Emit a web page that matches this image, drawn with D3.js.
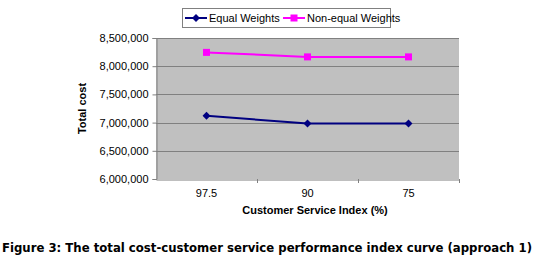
<!DOCTYPE html>
<html>
<head>
<meta charset="utf-8">
<script src="https://cdn.jsdelivr.net/npm/d3@7/dist/d3.min.js"></script>
<style>
  html, body { margin: 0; padding: 0; background: #fff; }
  svg { display: block; }
</style>
</head>
<body>
<svg id="chart" width="543" height="259"></svg>
<script>
const categories = ["97.5", "90", "75"];
const equalWeights = [7120000, 6985000, 6985000];
const nonEqualWeights = [8245000, 8165000, 8165000];
const yTicks = [6000000, 6500000, 7000000, 7500000, 8000000, 8500000];
const seriesNames = ["Equal Weights", "Non-equal Weights"];

const svg = d3.select("#chart");
const plot = { left: 156, right: 459, top: 38, bottom: 179 };

const x = d3.scaleBand().domain(categories).range([plot.left, plot.right]);
const y = d3.scaleLinear().domain([6000000, 8500000]).range([plot.bottom, plot.top]);

// plot background
svg.append("rect")
  .attr("x", plot.left).attr("y", plot.top)
  .attr("width", plot.right - plot.left).attr("height", plot.bottom - plot.top)
  .attr("fill", "#c0c0c0");

// gridlines
svg.append("g").selectAll("line").data(yTicks.slice(1)).join("line")
  .attr("x1", plot.left).attr("x2", plot.right)
  .attr("y1", d => Math.round(y(d)) + 0.5).attr("y2", d => Math.round(y(d)) + 0.5)
  .attr("stroke", "#808080").attr("stroke-width", 1);

// y axis
const yAxis = d3.axisLeft(y).tickValues(yTicks).tickSize(4).tickPadding(4)
  .tickFormat(d3.format(","));
const gy = svg.append("g").attr("transform", `translate(${plot.left + 0.5},0)`).call(yAxis);
gy.select(".domain").attr("stroke", "#808080");
gy.selectAll(".tick line").attr("stroke", "#808080");
gy.selectAll("text").attr("font-family", "Arial, 'Liberation Sans', sans-serif")
  .attr("font-size", 11).attr("fill", "#000");

// x axis
const xAxis = d3.axisBottom(x).tickSize(0).tickPadding(10);
const gx = svg.append("g").attr("transform", `translate(0,${plot.bottom + 0.5})`).call(xAxis);
gx.select(".domain").attr("stroke", "#808080");
gx.selectAll("text").attr("font-family", "Arial, 'Liberation Sans', sans-serif")
  .attr("font-size", 11).attr("fill", "#000");
// tick marks between categories
svg.append("g").selectAll("line").data(categories).join("line")
  .attr("x1", d => Math.round(x(d) + x.bandwidth()) + 0.5)
  .attr("x2", d => Math.round(x(d) + x.bandwidth()) + 0.5)
  .attr("y1", plot.bottom).attr("y2", plot.bottom + 4)
  .attr("stroke", "#808080");

// lines
const line = d3.line().x((d, i) => x(categories[i]) + x.bandwidth() / 2).y(d => y(d));
svg.append("path").datum(equalWeights).attr("d", line)
  .attr("fill", "none").attr("stroke", "#000080").attr("stroke-width", 2);
svg.append("path").datum(nonEqualWeights).attr("d", line)
  .attr("fill", "none").attr("stroke", "#ff00ff").attr("stroke-width", 2);

const diamond = d3.symbol().type(d3.symbolDiamond2).size(40);
svg.append("g").selectAll("path").data(equalWeights).join("path")
  .attr("d", diamond)
  .attr("transform", (d, i) => `translate(${x(categories[i]) + x.bandwidth() / 2},${y(d)})`)
  .attr("fill", "#000080");
svg.append("g").selectAll("rect").data(nonEqualWeights).join("rect")
  .attr("x", (d, i) => x(categories[i]) + x.bandwidth() / 2 - 3.5)
  .attr("y", d => y(d) - 3.5)
  .attr("width", 7).attr("height", 7)
  .attr("fill", "#ff00ff");

// axis titles
svg.append("text")
  .attr("transform", `translate(86,${(plot.top + plot.bottom) / 2}) rotate(-90)`)
  .attr("text-anchor", "middle")
  .attr("font-family", "Arial, 'Liberation Sans', sans-serif")
  .attr("font-size", 11).attr("font-weight", "bold")
  .text("Total cost");
svg.append("text")
  .attr("x", 315).attr("y", 214)
  .attr("text-anchor", "middle")
  .attr("font-family", "Arial, 'Liberation Sans', sans-serif")
  .attr("font-size", 11).attr("font-weight", "bold")
  .text("Customer Service Index (%)");

// legend
const lg = svg.append("g");
lg.append("rect").attr("x", 182.5).attr("y", 8.5).attr("width", 208).attr("height", 19)
  .attr("fill", "#fff").attr("stroke", "#808080");
const lx = [185, 283];
const colors = ["#000080", "#ff00ff"];
seriesNames.forEach((name, i) => {
  lg.append("line").attr("x1", lx[i]).attr("x2", lx[i] + 22).attr("y1", 18).attr("y2", 18)
    .attr("stroke", colors[i]).attr("stroke-width", 2);
  if (i === 0) {
    lg.append("path").attr("d", diamond).attr("transform", `translate(${lx[i] + 11},18)`).attr("fill", colors[i]);
  } else {
    lg.append("rect").attr("x", lx[i] + 11 - 3.5).attr("y", 14.5).attr("width", 7).attr("height", 7).attr("fill", colors[i]);
  }
  lg.append("text").attr("x", lx[i] + 24).attr("y", 22)
    .attr("font-family", "Arial, 'Liberation Sans', sans-serif").attr("font-size", 11)
    .attr("fill", "#000").text(name);
});

// caption: size the font so its natural width fits the figure
const cap = svg.append("text")
  .attr("x", 2).attr("y", 252)
  .attr("font-family", "'DejaVu Sans Condensed', 'DejaVu Sans', sans-serif")
  .attr("font-size", 12).attr("font-weight", "bold")
  .text("Figure 3: The total cost-customer service performance index curve (approach 1)");
const w = cap.node().getComputedTextLength();
cap.attr("font-size", Math.min(13, 12 * 534 / w));
</script>
</body>
</html>
